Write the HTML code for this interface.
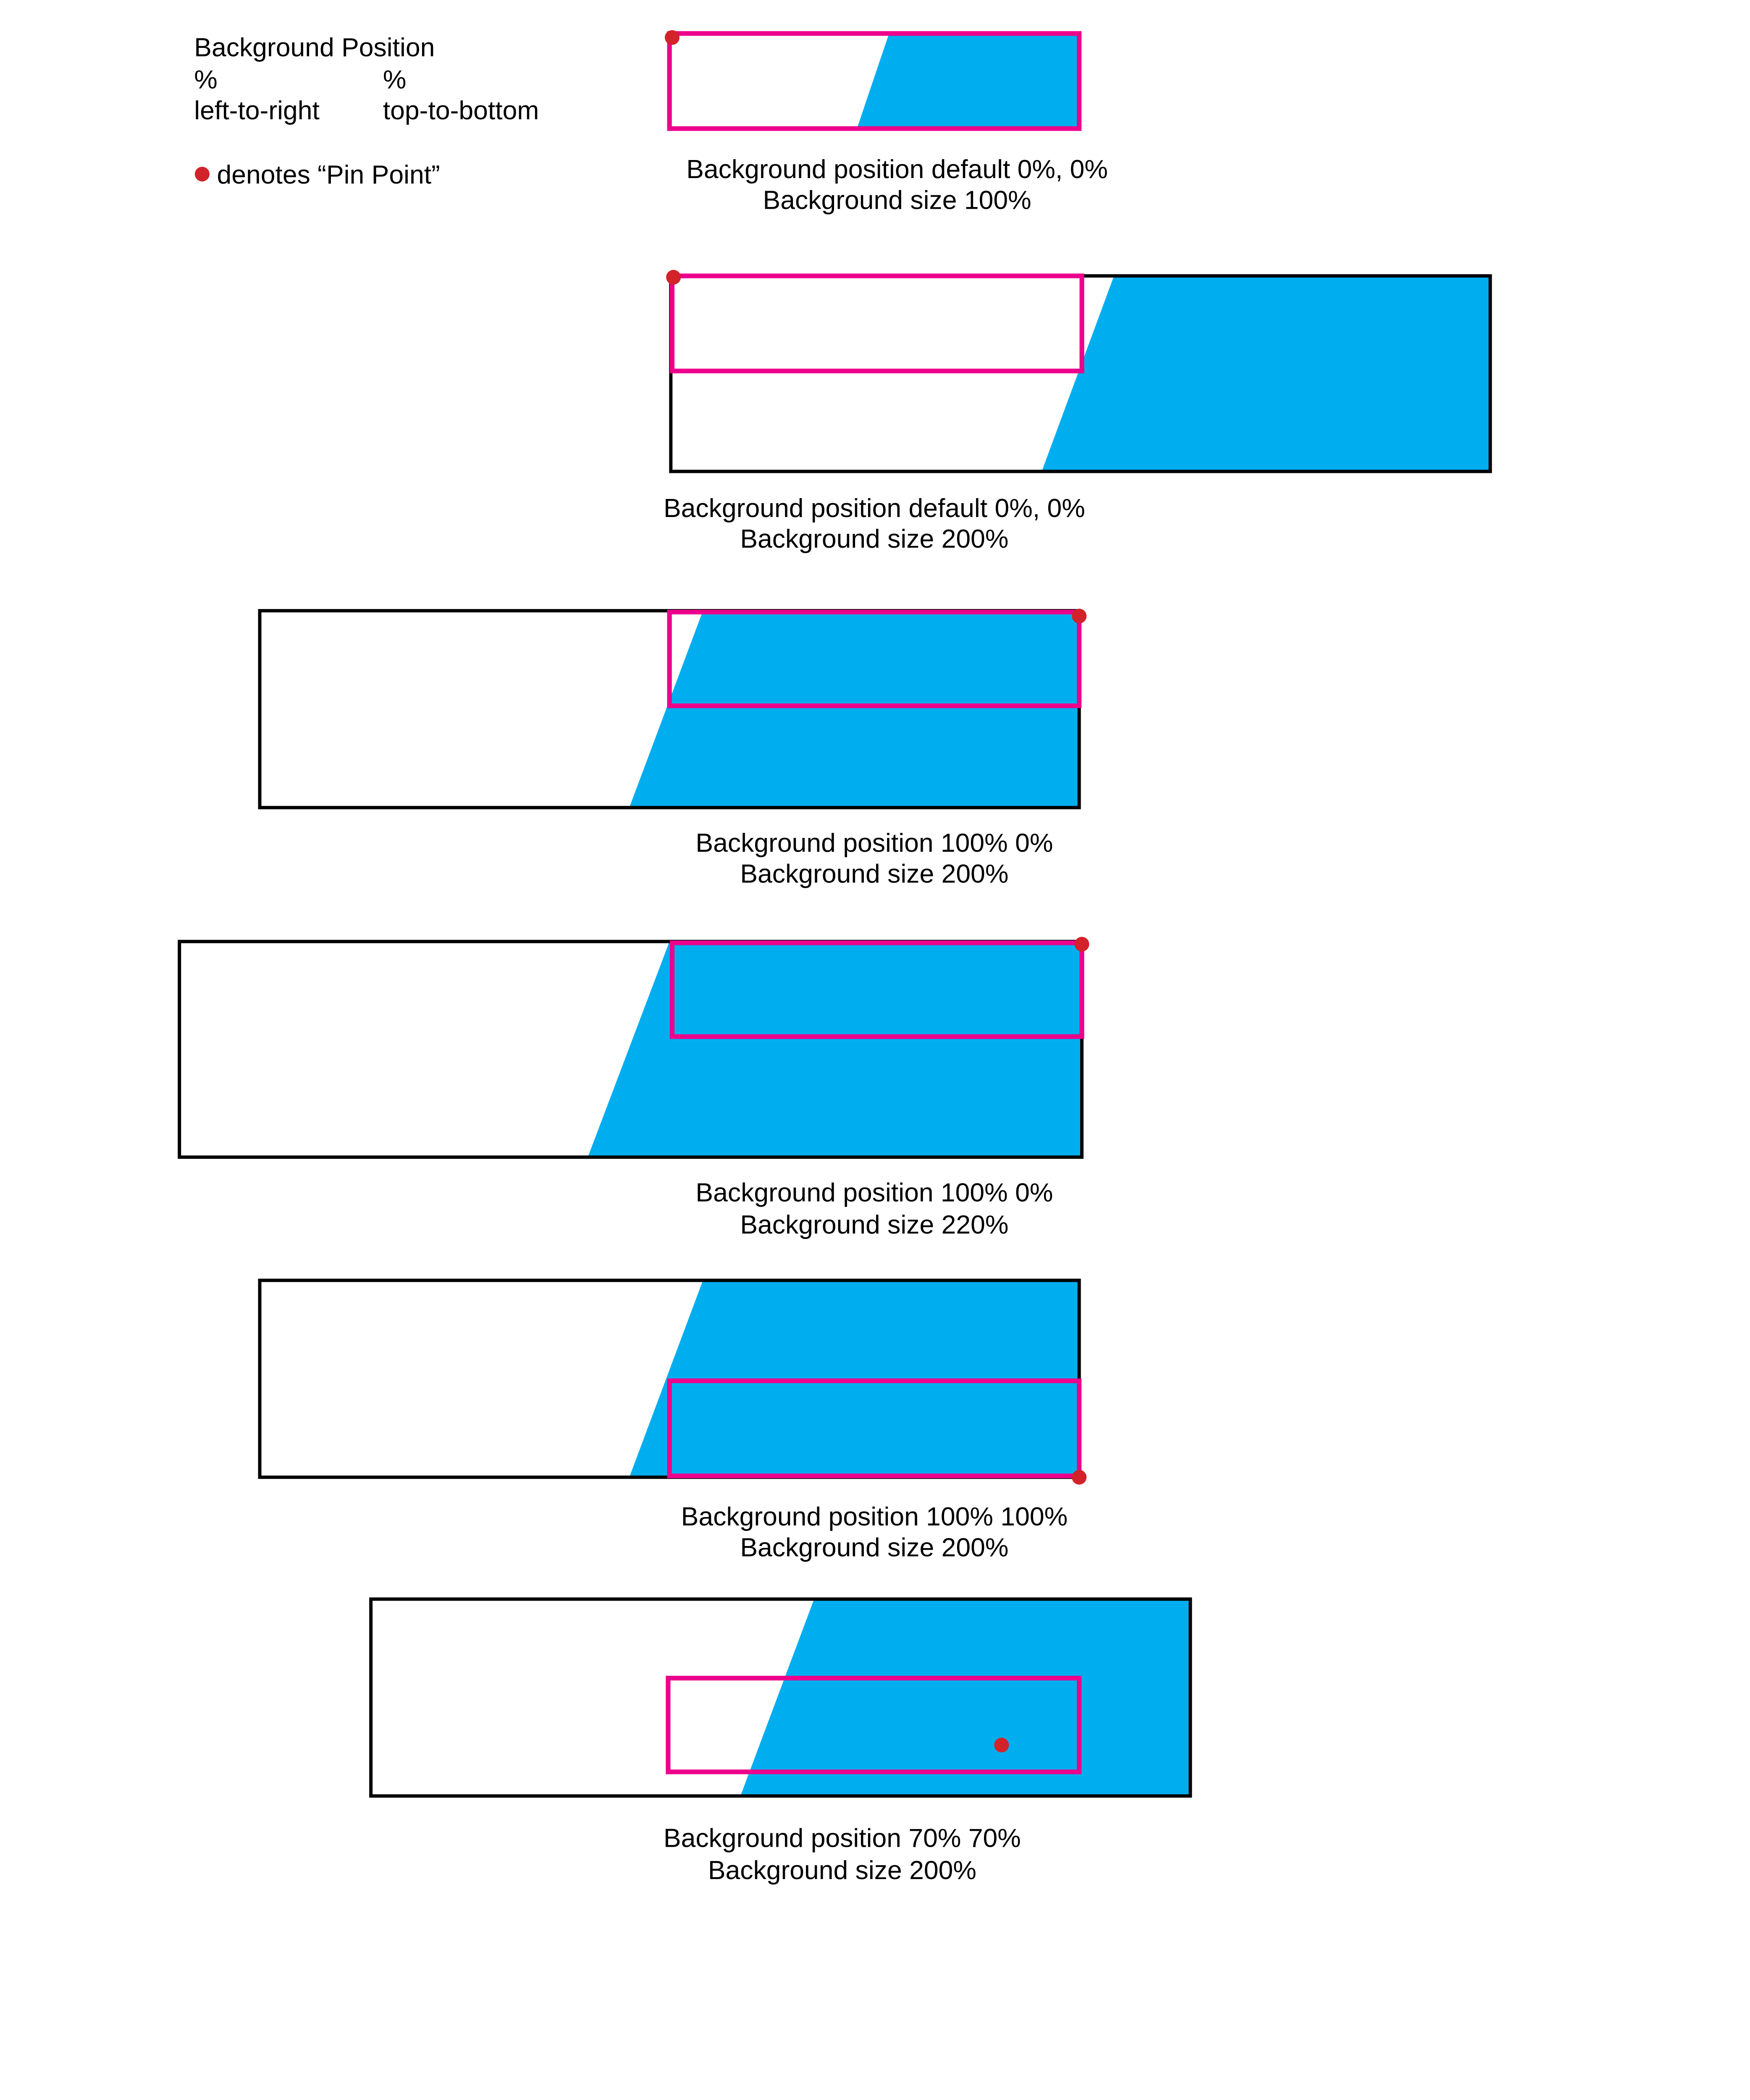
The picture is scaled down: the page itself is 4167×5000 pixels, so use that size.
<!DOCTYPE html>
<html><head><meta charset="utf-8"><style>html,body{margin:0;padding:0;background:#fff}svg{display:block}</style></head>
<body>
<svg xmlns="http://www.w3.org/2000/svg" width="4167" height="5000" viewBox="0 0 1307 1568" preserveAspectRatio="none" font-family="Liberation Sans, Arial, sans-serif" font-size="19.6" fill="#000">
<rect width="1307" height="1568" fill="#fff"/>
<g>
<text x="145" y="42">Background Position</text>
<text x="145" y="66">%</text><text x="286" y="66">%</text>
<text x="145" y="89">left-to-right</text><text x="286" y="89">top-to-bottom</text>
<circle cx="151" cy="130" r="5.5" fill="#D2232A"/>
<text x="162" y="137">denotes “Pin Point”</text>
</g>
<!-- 1 -->
<polygon points="664,25 806,25 806,96 640,96" fill="#00AEEF"/>
<rect x="500" y="25" width="306" height="71" fill="none" stroke="#EC008C" stroke-width="3.5"/>
<circle cx="502" cy="28" r="5.5" fill="#D2232A"/>
<text x="670" y="133" text-anchor="middle">Background position default 0%, 0%</text>
<text x="670" y="156" text-anchor="middle">Background size 100%</text>
<!-- 2 -->
<polygon points="832,206 1113,206 1113,352 778,352" fill="#00AEEF"/>
<rect x="501" y="206" width="612" height="146" fill="none" stroke="#000" stroke-width="2.5"/>
<rect x="502" y="206" width="306" height="71" fill="none" stroke="#EC008C" stroke-width="3.5"/>
<circle cx="503" cy="207" r="5.5" fill="#D2232A"/>
<text x="653" y="386" text-anchor="middle">Background position default 0%, 0%</text>
<text x="653" y="409" text-anchor="middle">Background size 200%</text>
<!-- 3 -->
<polygon points="525,456 806,456 806,603 470,603" fill="#00AEEF"/>
<rect x="194" y="456" width="612" height="147" fill="none" stroke="#000" stroke-width="2.5"/>
<rect x="500" y="457" width="306" height="70" fill="none" stroke="#EC008C" stroke-width="3.5"/>
<circle cx="806" cy="460" r="5.5" fill="#D2232A"/>
<text x="653" y="636" text-anchor="middle">Background position 100% 0%</text>
<text x="653" y="659" text-anchor="middle">Background size 200%</text>
<!-- 4 -->
<polygon points="500,703 808,703 808,864 439,864" fill="#00AEEF"/>
<rect x="134" y="703" width="674" height="161" fill="none" stroke="#000" stroke-width="2.5"/>
<rect x="502" y="704" width="306" height="70" fill="none" stroke="#EC008C" stroke-width="3.5"/>
<circle cx="808" cy="705" r="5.5" fill="#D2232A"/>
<text x="653" y="897" text-anchor="middle">Background position 100% 0%</text>
<text x="653" y="921" text-anchor="middle">Background size 220%</text>
<!-- 5 -->
<polygon points="525,956 806,956 806,1103 470,1103" fill="#00AEEF"/>
<rect x="194" y="956" width="612" height="147" fill="none" stroke="#000" stroke-width="2.5"/>
<rect x="500" y="1031" width="306" height="71" fill="none" stroke="#EC008C" stroke-width="3.5"/>
<circle cx="806" cy="1103" r="5.5" fill="#D2232A"/>
<text x="653" y="1139" text-anchor="middle">Background position 100% 100%</text>
<text x="653" y="1162" text-anchor="middle">Background size 200%</text>
<!-- 6 -->
<polygon points="608,1194 889,1194 889,1341 553,1341" fill="#00AEEF"/>
<rect x="277" y="1194" width="612" height="147" fill="none" stroke="#000" stroke-width="2.5"/>
<rect x="499" y="1253" width="307" height="70" fill="none" stroke="#EC008C" stroke-width="3.5"/>
<circle cx="748" cy="1303" r="5.5" fill="#D2232A"/>
<text x="629" y="1379" text-anchor="middle">Background position 70% 70%</text>
<text x="629" y="1403" text-anchor="middle">Background size 200%</text>
</svg>
</body></html>
